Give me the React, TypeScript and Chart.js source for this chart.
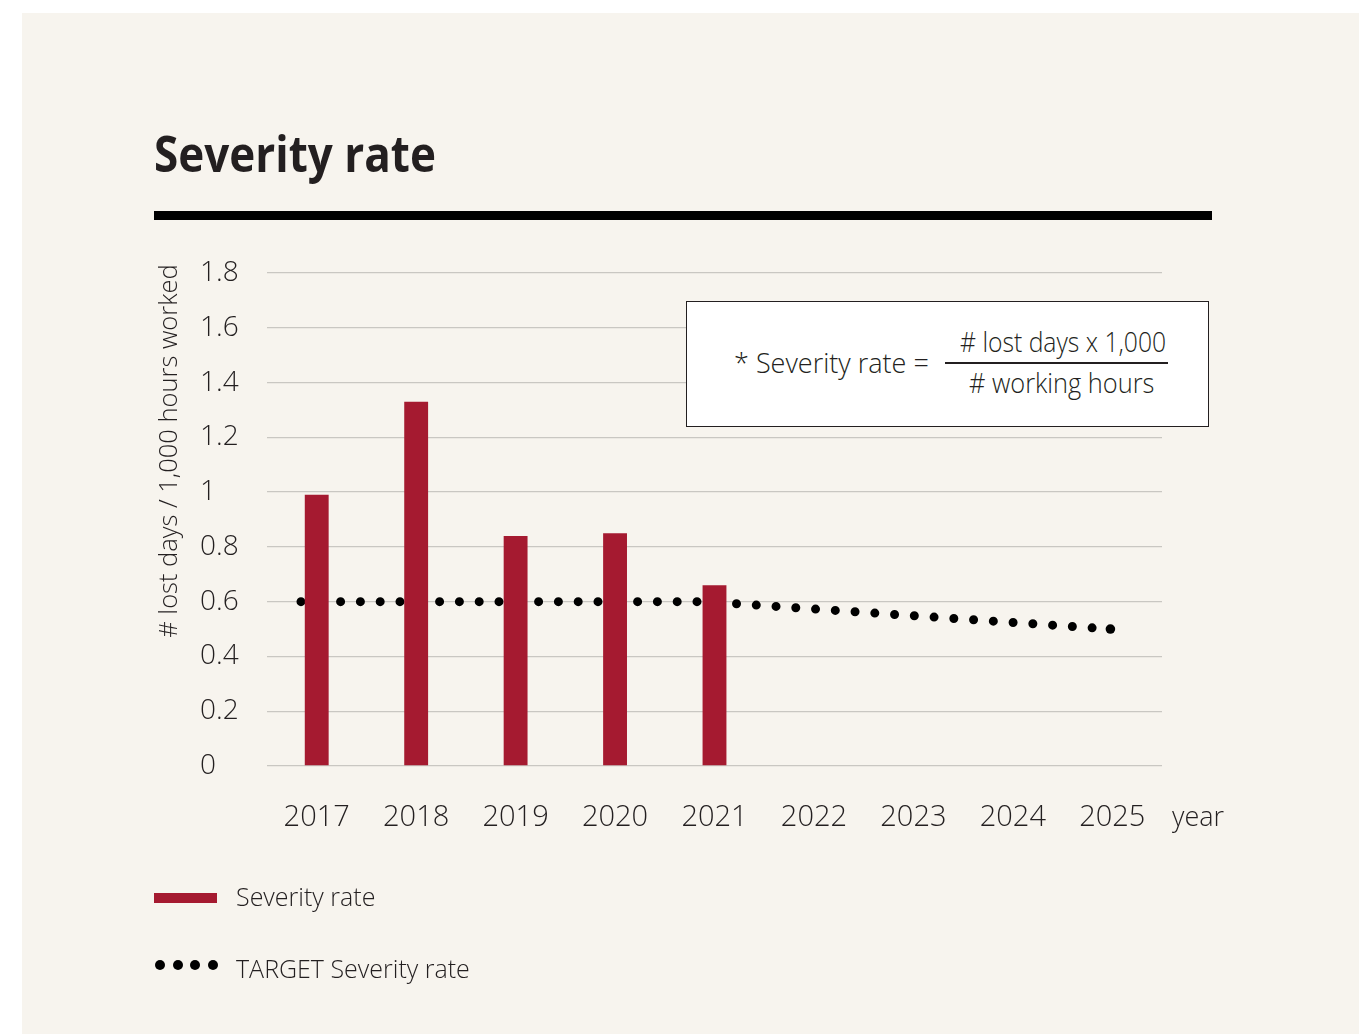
import React, { useEffect, useRef } from 'react';
import { Chart, registerables } from 'chart.js';

Chart.register(...registerables);

// ---- data ----
const years: string[] = ['2017', '2018', '2019', '2020', '2021', '2022', '2023', '2024', '2025'];
const severityRate: (number | null)[] = [0.99, 1.33, 0.84, 0.85, 0.66, null, null, null, null];
const targetYears: number[] = [2017, 2018, 2019, 2020, 2021, 2022, 2023, 2024, 2025];
const targetRate: number[] = [0.6, 0.6, 0.6, 0.6, 0.6, 0.575, 0.55, 0.525, 0.5];
const yTickValues: number[] = [0, 0.2, 0.4, 0.6, 0.8, 1, 1.2, 1.4, 1.6, 1.8];
const yTickLabels: string[] = ['0', '0.2', '0.4', '0.6', '0.8', '1', '1.2', '1.4', '1.6', '1.8'];

const FONT = "'Open Sans', 'Noto Sans', sans-serif";
const INK = '#231f20';
const RED = '#a51a30';
const BG = '#f7f4ee';
const PANEL_X = 22;
const PANEL_Y = 13;

function Txt(props: { x: number; base: number; size: number; weight?: number; sx?: number; children: React.ReactNode }) {
  const { x, base, size, weight = 300, sx = 1, children } = props;
  return (
    <div
      style={{
        position: 'absolute',
        left: x - PANEL_X,
        top: base - PANEL_Y - 1.069 * size,
        fontSize: size,
        fontWeight: weight,
        lineHeight: 'normal',
        whiteSpace: 'nowrap',
        color: INK,
        fontFamily: FONT,
        transform: `scaleX(${sx})`,
        transformOrigin: 'left center',
      }}
    >
      {children}
    </div>
  );
}

export default function App() {
  const ref = useRef<HTMLCanvasElement>(null);

  useEffect(() => {
    const canvas = ref.current;
    if (!canvas) return;
    const lastIdx = targetYears.length - 1;
    const chart = new Chart(canvas, {
      type: 'bar',
      data: {
        labels: years,
        datasets: [
          {
            type: 'bar',
            label: 'Severity rate',
            data: severityRate,
            backgroundColor: RED,
            borderWidth: 0,
            barPercentage: 0.24,
            categoryPercentage: 1,
            grouped: false,
            order: 1,
            xAxisID: 'x',
          },
          {
            type: 'line',
            label: 'TARGET Severity rate',
            data: targetYears.map((x, i) => ({ x, y: targetRate[i] })),
            xAxisID: 'x2',
            borderColor: '#000',
            borderWidth: 9,
            borderDash: [0, 19.8],
            borderCapStyle: 'round',
            tension: 0,
            fill: false,
            pointRadius: (ctx: any) => (ctx.dataIndex === lastIdx ? 4.8 : 0),
            pointBackgroundColor: '#000',
            pointBorderWidth: 0,
            order: 2,
          } as any,
        ],
      },
      options: {
        responsive: false,
        animation: false,
        layout: { padding: { left: 178, right: 197, top: 260, bottom: 188 } },
        plugins: {
          legend: { display: false },
          tooltip: { enabled: false },
        },
        scales: {
          x: {
            type: 'category',
            offset: true,
            grid: { display: false, drawTicks: false },
            border: { display: false },
            ticks: {
              color: INK,
              font: { family: FONT, size: 29, weight: '300' },
              padding: 34,
              maxRotation: 0,
              autoSkip: false,
            },
            afterFit: (s: any) => {
              s.height = 80;
            },
          },
          x2: {
            type: 'linear',
            display: false,
            offset: false,
            grid: { offset: false },
            min: 2016.664,
            max: 2025.51,
          },
          y: {
            min: 0,
            max: 1.8,
            grid: { color: '#c9c7c2', lineWidth: 1.3, drawTicks: false },
            border: { display: false },
            afterBuildTicks: (s: any) => {
              s.ticks = yTickValues.map((v) => ({ value: v }));
            },
            ticks: {
              color: INK,
              crossAlign: 'far',
              padding: 0,
              font: { family: FONT, size: 28, weight: '300' },
              callback: (_v: any, i: number) => yTickLabels[i],
            },
            afterFit: (s: any) => {
              s.width = 67;
            },
          },
        },
      } as any,
    });
    return () => chart.destroy();
  }, []);

  return (
    <div
      style={{
        position: 'fixed',
        left: PANEL_X,
        top: PANEL_Y,
        width: 1337,
        height: 1021,
        background: BG,
        overflow: 'hidden',
        fontFamily: FONT,
      }}
    >
      <canvas
        ref={ref}
        width={1337}
        height={1021}
        style={{ position: 'absolute', left: 0, top: 0, width: 1337, height: 1021 }}
      />

      {/* title */}
      <Txt x={154} base={172} size={50} weight={700} sx={0.88}>
        Severity rate
      </Txt>
      <div
        style={{
          position: 'absolute',
          left: 154 - PANEL_X,
          top: 211 - PANEL_Y,
          width: 1058,
          height: 9,
          background: '#000',
        }}
      />

      {/* y axis title */}
      <div
        style={{
          position: 'absolute',
          left: 166.5 - PANEL_X - 300,
          top: 451 - PANEL_Y - (1.362 * 26) / 2,
          width: 600,
          textAlign: 'center',
          fontSize: 26,
          fontWeight: 300,
          lineHeight: 'normal',
          whiteSpace: 'nowrap',
          color: INK,
          transform: 'rotate(-90deg) scaleX(0.98)',
          transformOrigin: 'center center',
        }}
      >
        # lost days / 1,000 hours worked
      </div>

      {/* x axis unit */}
      <Txt x={1172} base={826} size={27}>
        year
      </Txt>

      {/* formula box */}
      <div
        style={{
          position: 'absolute',
          left: 686 - PANEL_X,
          top: 301 - PANEL_Y,
          width: 523,
          height: 126,
          boxSizing: 'border-box',
          border: `1.5px solid ${INK}`,
          background: '#fff',
        }}
      />
      <Txt x={734} base={373} size={27}>
        * Severity rate =
      </Txt>
      <Txt x={960} base={352} size={27} sx={0.915}>
        # lost days x 1,000
      </Txt>
      <div
        style={{
          position: 'absolute',
          left: 945 - PANEL_X,
          top: 362 - PANEL_Y,
          width: 223,
          height: 1.5,
          background: INK,
        }}
      />
      <Txt x={969} base={393} size={27} sx={0.94}>
        # working hours
      </Txt>

      {/* legend */}
      <div
        style={{
          position: 'absolute',
          left: 154 - PANEL_X,
          top: 893 - PANEL_Y,
          width: 63,
          height: 10,
          background: RED,
        }}
      />
      <Txt x={236} base={906} size={25}>
        Severity rate
      </Txt>
      {[160, 177.5, 195, 212.5].map((cx) => (
        <div
          key={cx}
          style={{
            position: 'absolute',
            left: cx - 5 - PANEL_X,
            top: 965 - 5 - PANEL_Y,
            width: 10,
            height: 10,
            borderRadius: '50%',
            background: '#000',
          }}
        />
      ))}
      <Txt x={236} base={978} size={25}>
        TARGET Severity rate
      </Txt>
    </div>
  );
}
